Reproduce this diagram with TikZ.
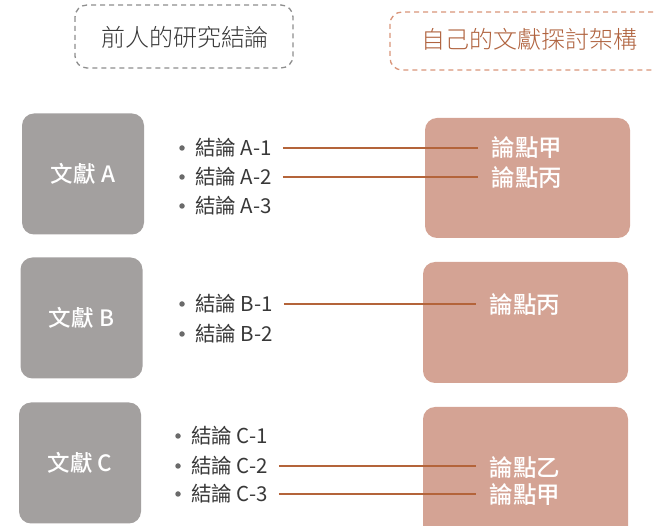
\documentclass[tikz,border=0pt]{standalone}
\usepackage{fontspec}
\setmainfont{Noto Sans CJK TC}
\newfontfamily\medfont{Noto Sans CJK TC}[UprightFont={* Medium}]
\newfontfamily\lightfont{Noto Sans CJK TC}[UprightFont={* Light}]
\definecolor{boxgray}{HTML}{A3A09F}
\definecolor{salmon}{HTML}{D4A394}
\definecolor{linkc}{HTML}{B4643A}
\definecolor{headr}{HTML}{B0633F}
\definecolor{dashr}{HTML}{D9957A}
\definecolor{dashl}{HTML}{8E8E8E}
\definecolor{txt}{HTML}{383838}
\begin{document}
\begin{tikzpicture}[x=1pt,y=-1pt,
  graybox/.style={fill=boxgray, rounded corners=12pt, minimum width=122pt, minimum height=121pt, text=white, font=\medfont\fontsize{22.5}{24}\selectfont, inner sep=0pt},
  pinkbox/.style={fill=salmon, rounded corners=12pt},
  ptext/.style={text=white, font=\medfont\fontsize{23.5}{24}\selectfont, inner sep=0pt},
  btext/.style={anchor=west, text=txt, font=\fontsize{20.5}{22}\selectfont, inner sep=0pt},
  dotm/.style={circle, fill=txt!75, inner sep=0pt, minimum size=5.5pt},
  link/.style={draw=linkc, line width=1.4pt, shorten <=11pt, shorten >=14pt},
  hdash/.style={dashed, dash pattern=on 5pt off 4pt, line width=1.3pt, rounded corners=12pt},
  htext/.style={font=\lightfont\fontsize{24}{26}\selectfont, inner sep=0pt}]
\useasboundingbox (0,0) rectangle (654,526);

% headers
\draw[hdash, draw=dashl] (75,5) rectangle (293,68);
\node[htext, text=txt] (hl) at (185,37) {前人的研究結論};
\draw[hdash, draw=dashr] (390,12) rectangle (680,70);
\node[htext, text=headr] (hr) at (529,39) {自己的文獻探討架構};

% gray boxes
\node[graybox] (A) at (83,174) {文獻 A};
\node[graybox] (B) at (81.5,318) {文獻 B};
\node[graybox] (C) at (80,463) {文獻 C};

% pink boxes
\fill[pinkbox] (425,118) rectangle (630,238);
\fill[pinkbox] (423,262) rectangle (628,383);
\fill[pinkbox] (423,407) rectangle (628,540);

% point texts
\node[ptext] (pa1) at (527,148) {論點甲};
\node[ptext] (pa2) at (527,178) {論點丙};
\node[ptext] (pb1) at (525,305) {論點丙};
\node[ptext] (pc2) at (525,468) {論點乙};
\node[ptext] (pc3) at (525,495) {論點甲};

% bullets
\foreach \n/\y/\t/\bx/\tx in {a1/148/A-1/182/195, a2/177/A-2/182/195, a3/206/A-3/182/195,
                          b1/304/B-1/182/195, b2/334/B-2/182/195,
                          c1/436/C-1/178/191, c2/466/C-2/178/191, c3/494/C-3/178/191}{
  \node[dotm] (d\n) at (\bx,\y) {};
  \node[btext] (\n) at (\tx,\y) {結論 \t};
}

% links
\draw[link] (a1.east) -- (a1.east -| pa1.west);
\draw[link] (a2.east) -- (a2.east -| pa2.west);
\draw[link] (b1.east) -- (b1.east -| pb1.west);
\draw[link] (c2.east) -- (c2.east -| pc2.west);
\draw[link] (c3.east) -- (c3.east -| pc3.west);
\end{tikzpicture}
\end{document}
